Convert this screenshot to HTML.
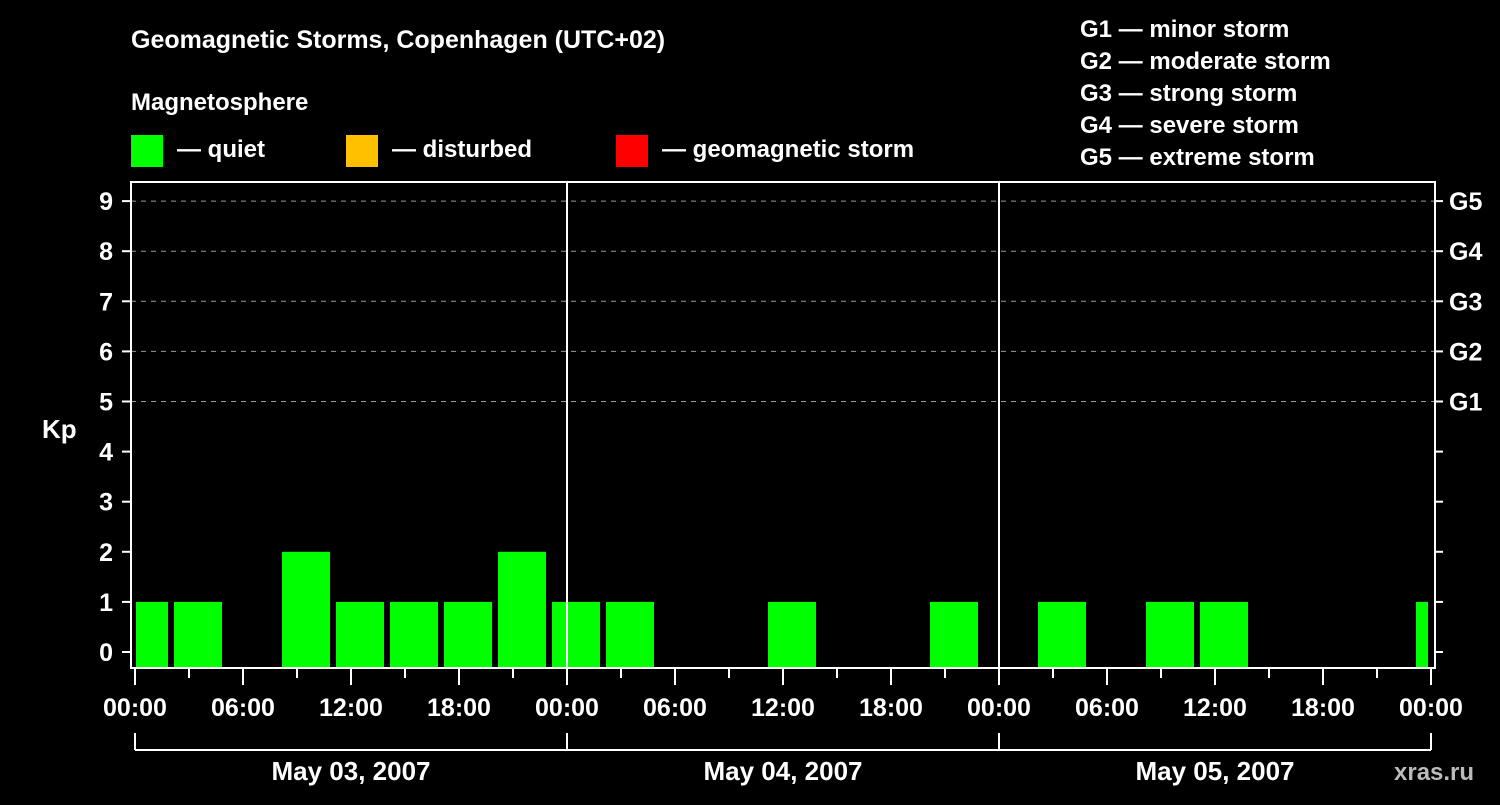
<!DOCTYPE html>
<html><head><meta charset="utf-8"><style>
html,body{margin:0;padding:0;background:#000;}
svg text{font-family:"Liberation Sans",Arial,sans-serif;font-weight:bold;fill:#fff;}
</style></head><body>
<svg id="chart" width="1500" height="800" viewBox="0 0 1500 800" xmlns="http://www.w3.org/2000/svg">
<rect width="1500" height="800" fill="#000"/>
<text x="131" y="48" font-size="25">Geomagnetic Storms, Copenhagen (UTC+02)</text>
<text x="131" y="110" font-size="24">Magnetosphere</text>
<g><rect x="131" y="135" width="32" height="32" fill="#00ff00"/><text x="177" y="157" font-size="24">— quiet</text></g>
<g><rect x="346" y="135" width="32" height="32" fill="#ffc000"/><text x="392" y="157" font-size="24">— disturbed</text></g>
<g><rect x="616" y="135" width="32" height="32" fill="#ff0000"/><text x="662" y="157" font-size="24">— geomagnetic storm</text></g>
<g font-size="24">
<text x="1080" y="37">G1 — minor storm</text>
<text x="1080" y="69">G2 — moderate storm</text>
<text x="1080" y="101">G3 — strong storm</text>
<text x="1080" y="133">G4 — severe storm</text>
<text x="1080" y="165">G5 — extreme storm</text>
</g>
<text x="42" y="438" font-size="26">Kp</text>
<g id="grid"></g><g id="bars"></g><g id="axes"></g>
<text x="1394" y="780" font-size="24" style="fill:#bbb">xras.ru</text>
</svg>
<script>
const kpValues=[1,1,0,2,1,1,1,2,1,1,0,0,1,0,0,1,0,1,0,1,1,0,0,0,1];
const kpTicks=[0,1,2,3,4,5,6,7,8,9];
const gLabels=["G1","G2","G3","G4","G5"];
const hourLabels=["00:00","06:00","12:00","18:00"];
const dateLabels=["May 03, 2007","May 04, 2007","May 05, 2007"];
const X0=135,PXH=18,L=131,R=1435,T=182,B=668;
const y=v=>652-v*50.1;
const x=h=>X0+h*PXH;
const NS="http://www.w3.org/2000/svg";
function mk(tag,attrs,parent,txt){const e=document.createElementNS(NS,tag);for(const k in attrs)e.setAttribute(k,attrs[k]);if(txt!==undefined)e.textContent=txt;document.getElementById(parent).appendChild(e);return e;}
// grid
for(let v=5;v<=9;v++){const g=mk('line',{x1:L,x2:R,y1:y(v),y2:y(v),stroke:'#999','stroke-dasharray':'5,5','stroke-width':1},'grid');

}
// bars (3h UTC slots, local offset +2h => slot k starts at hour -1+3k)
kpValues.forEach((v,k)=>{if(v<=0)return;
let s=Math.max(x(-1+3*k)+3,X0+1),e=Math.min(x(2+3*k)-3,x(72)-3);
const c=v>=5?'#ff0000':(v>=4?'#ffc000':'#00ff00');
const b=mk('rect',{x:s,y:y(v),width:e-s,height:B-y(v),fill:c},'bars');

});
// day separators
for(let d=1;d<3;d++){const l=mk('line',{x1:x(24*d),x2:x(24*d),y1:T,y2:B,stroke:'#fff','stroke-width':2},'axes');

}
const fr=mk('rect',{x:L,y:T,width:R-L,height:B-T,fill:'none',stroke:'#fff','stroke-width':2},'axes');


kpTicks.forEach(v=>{mk('line',{x1:122,x2:L,y1:y(v),y2:y(v),stroke:'#fff','stroke-width':2},'axes');
mk('line',{x1:R,x2:1443,y1:y(v),y2:y(v),stroke:'#fff','stroke-width':2},'axes');
const t=mk('text',{x:113,y:y(v)+9,'font-size':25,'text-anchor':'end'},'axes',v);

});
gLabels.forEach((g,i)=>{const t=mk('text',{x:1449,y:y(5+i)+9,'font-size':25},'axes',g);

});
for(let h=0;h<=72;h+=3){const major=h%6===0;
mk('line',{x1:x(h),x2:x(h),y1:B,y2:major?685:678,stroke:'#fff','stroke-width':2},'axes');
if(major){const t=mk('text',{x:x(h),y:716,'font-size':25,'text-anchor':'middle'},'axes',hourLabels[(h/6)%4]);

}}
mk('line',{x1:x(0),x2:x(72),y1:750,y2:750,stroke:'#fff','stroke-width':2},'axes');
for(let d=0;d<=3;d++)mk('line',{x1:x(24*d),x2:x(24*d),y1:733,y2:750,stroke:'#fff','stroke-width':2},'axes');
dateLabels.forEach((s,d)=>{const t=mk('text',{x:x(24*d+12),y:780,'font-size':26,'text-anchor':'middle'},'axes',s);

});
</script>
</body></html>
